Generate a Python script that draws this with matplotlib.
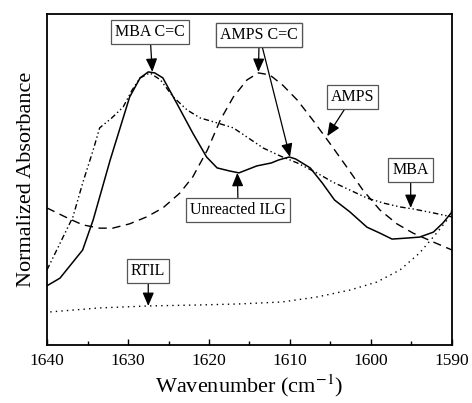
import matplotlib
matplotlib.use('Agg')
import matplotlib.pyplot as plt
from matplotlib.ticker import MultipleLocator

plt.rcParams['font.family'] = 'Liberation Serif'
plt.rcParams['mathtext.fontset'] = 'stix'

# unreacted ILG (solid)
ilg_wn = [1640, 1638.4, 1635.6, 1634.3, 1632.2, 1629.8, 1628.5, 1627.5, 1626.7, 1625.7,
          1624.0, 1622.0, 1620.3, 1619.0, 1617.5, 1616.3, 1614.1, 1612.3, 1611.4, 1610.1,
          1609.3, 1607.5, 1606.0, 1604.5, 1602.6, 1600.5, 1598.9, 1597.4, 1595.6, 1594.0,
          1592.3, 1591.1, 1590]
ilg_abs = [0.179, 0.202, 0.287, 0.378, 0.559, 0.749, 0.807, 0.825, 0.822, 0.807,
           0.731, 0.640, 0.568, 0.535, 0.526, 0.520, 0.541, 0.550, 0.559, 0.568,
           0.562, 0.535, 0.489, 0.438, 0.402, 0.356, 0.338, 0.320, 0.323, 0.326,
           0.341, 0.369, 0.402]

# AMPS (dashed)
amps_wn = [1640, 1637.5, 1635.6, 1633.5, 1631.9, 1629.8, 1627.7, 1625.7, 1623.6, 1622.0,
           1620.2, 1618.6, 1617.0, 1615.3, 1613.9, 1612.5, 1610.9, 1609.1, 1607.2, 1605.1,
           1603.0, 1601.0, 1598.9, 1596.8, 1594.8, 1592.3, 1590]
amps_abs = [0.414, 0.384, 0.363, 0.353, 0.353, 0.366, 0.387, 0.414, 0.459, 0.508,
            0.589, 0.680, 0.749, 0.801, 0.822, 0.816, 0.785, 0.740, 0.680, 0.610,
            0.538, 0.468, 0.408, 0.366, 0.338, 0.311, 0.287]

# MBA (dash-dot-dot)
mba_wn = [1640, 1636.8, 1635.6, 1634.3, 1633.5, 1632.0, 1630.6, 1629.5, 1628.5, 1627.3,
          1626.0, 1624.4, 1622.7, 1621.1, 1619.0, 1617.0, 1615.3, 1613.3, 1611.2, 1609.1,
          1606.7, 1604.7, 1602.6, 1600.5, 1598.5, 1596.4, 1594.8, 1592.3, 1590]
mba_abs = [0.227, 0.387, 0.489, 0.589, 0.656, 0.686, 0.719, 0.770, 0.807, 0.822,
           0.801, 0.749, 0.710, 0.686, 0.671, 0.656, 0.628, 0.595, 0.571, 0.550,
           0.520, 0.492, 0.468, 0.444, 0.429, 0.417, 0.411, 0.399, 0.387]

# RTIL (dotted)
rtil_wn = [1639.6, 1633.5, 1627.5, 1621.1, 1616.3, 1611.0, 1606.7, 1602.6, 1599.3,
           1596.4, 1594.0, 1591.9, 1590.6, 1590]
rtil_abs = [0.100, 0.112, 0.118, 0.121, 0.124, 0.130, 0.145, 0.166, 0.190,
            0.227, 0.278, 0.338, 0.378, 0.408]

# labels: text, box position, arrow target
labels = [
    ('MBA C=C', (1627.3, 0.946), (1627.0, 0.825)),
    ('AMPS C=C', (1613.8, 0.937), (1613.9, 0.825)),
    ('AMPS C=C', (1613.8, 0.937), (1610.0, 0.568)),
    ('AMPS', (1602.3, 0.749), (1605.4, 0.631)),
    ('MBA', (1595.1, 0.529), (1595.1, 0.414)),
    ('Unreacted ILG', (1616.4, 0.408), (1616.5, 0.520)),
    ('RTIL', (1627.5, 0.224), (1627.5, 0.118)),
]

fig = plt.figure(figsize=(4.72, 4.03), dpi=100)
ax = fig.add_axes([0.0996, 0.1439, 0.858, 0.8214])

ax.plot(ilg_wn, ilg_abs, color='black', lw=1.1, ls='-')
ax.plot(amps_wn, amps_abs, color='black', lw=1.0, ls=(0, (6, 4)))
ax.plot(mba_wn, mba_abs, color='black', lw=1.0, ls=(0, (4, 2, 1, 2, 1, 2)))
ax.plot(rtil_wn, rtil_abs, color='black', lw=1.0, ls=(0, (1, 3)))

for txt, box, tip in labels:
    arrow = dict(arrowstyle='-|>,head_length=0.7,head_width=0.3', color='black',
                 lw=0.9, shrinkA=0, shrinkB=0)
    ax.annotate(txt, xy=tip, xytext=box, ha='center', va='center', fontsize=11.5,
                arrowprops=arrow,
                bbox=dict(boxstyle='square,pad=0.25', fc='white', ec='#555555', lw=0.9))

ax.set_xlim(1640, 1590)
ax.set_ylim(0, 1)
ax.xaxis.set_major_locator(MultipleLocator(10))
ax.xaxis.set_minor_locator(MultipleLocator(5))
ax.tick_params(axis='x', which='major', direction='in', length=4, width=1, labelsize=12.5, pad=6)
ax.tick_params(axis='x', which='minor', direction='in', length=3, width=1)
ax.set_yticks([])
for s in ax.spines.values():
    s.set_linewidth(1.3)

ax.set_xlabel('Wavenumber (cm$^{-1}$)', fontsize=16, labelpad=2)
ax.set_ylabel('Normalized Absorbance', fontsize=16, labelpad=8)

fig.savefig('out.png', dpi=100)
